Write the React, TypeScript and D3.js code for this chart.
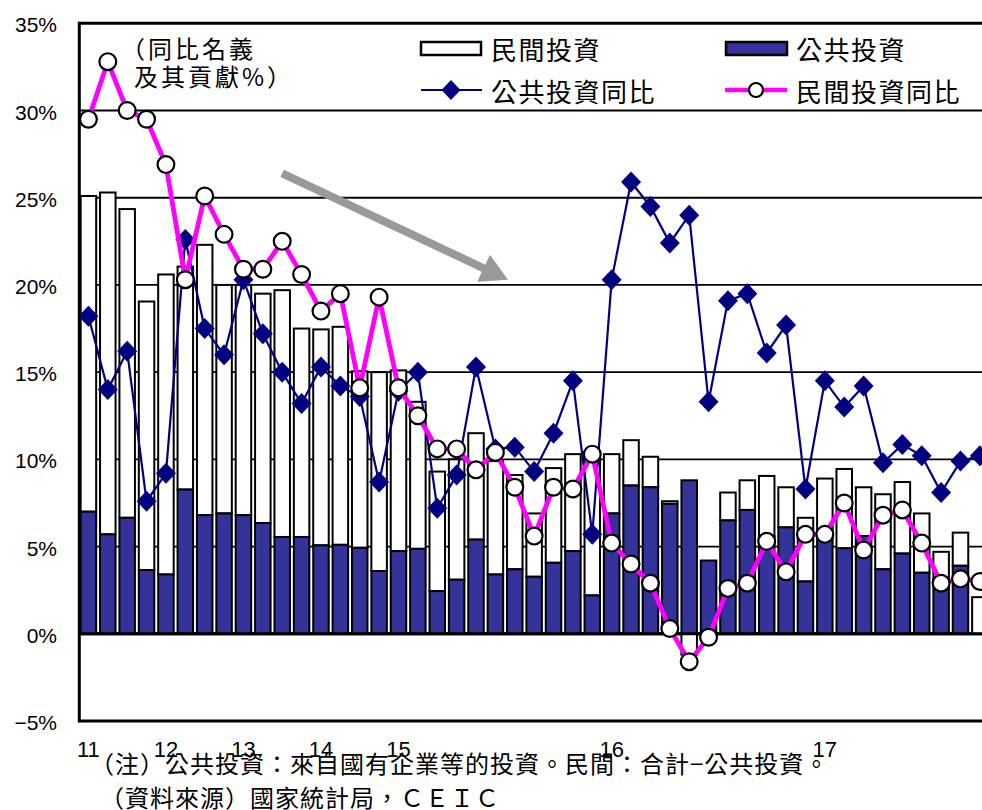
import React from 'react';
import * as d3 from 'd3';

// ---------- DATA ----------
const categories: string[] = [
  '11Q1', '11Q2', '11Q3', '11Q4',
  '12Q1', '12Q2', '12Q3', '12Q4',
  '13Q1', '13Q2', '13Q3', '13Q4',
  '14Q1', '14Q2', '14Q3', '14Q4',
  '15-02', '15-03', '15-04', '15-05', '15-06', '15-07', '15-08', '15-09', '15-10', '15-11', '15-12',
  '16-02', '16-03', '16-04', '16-05', '16-06', '16-07', '16-08', '16-09', '16-10', '16-11', '16-12',
  '17-02', '17-03', '17-04', '17-05', '17-06', '17-07', '17-08', '17-09', '17-10',
];

// contribution of public investment (dark bars), %
const publicContrib: number[] = [
  7.0, 5.7, 6.65, 3.65,
  3.4, 8.27, 6.8, 6.9,
  6.8, 6.35, 5.55, 5.55,
  5.07, 5.1, 4.93, 3.6,
  4.74, 4.87, 2.45, 3.1, 5.4, 3.4, 3.7, 3.27, 4.07, 4.74, 2.2,
  6.9, 8.5, 8.4, 7.45, 8.8, 4.2, 6.5, 7.1, 5.6, 6.1, 3.0,
  5.5, 4.9, 5.6, 3.7, 4.6, 3.5, 3.1, 3.9, 0,
];

// contribution of private investment (white bars), %
const privateContrib: number[] = [
  18.1, 19.6, 17.7, 15.4,
  17.2, 12.78, 15.5, 13.1,
  13.2, 13.15, 14.15, 11.95,
  12.38, 12.5, 10.12, 11.4,
  10.36, 8.43, 6.85, 6.9, 6.1, 6.5, 5.4, 3.63, 5.43, 5.56, 8.0,
  3.4, 2.6, 1.75, 0.15, -1.2, 0, 1.6, 1.7, 3.45, 2.3, 3.65,
  3.4, 4.55, 2.8, 4.3, 4.1, 3.4, 1.6, 1.9, 2.1,
];

// public investment YoY, %
const publicYoY: number[] = [
  18.2, 14.0, 16.2, 7.6,
  9.2, 22.6, 17.5, 16.0,
  20.3, 17.2, 15.0, 13.2,
  15.3, 14.2, 13.6, 8.7,
  13.9, 15.0, 7.2, 9.1, 15.3, 10.6, 10.7, 9.3, 11.5, 14.5, 5.7,
  20.3, 25.9, 24.5, 22.4, 24.0, 13.3, 19.1, 19.5, 16.1, 17.7, 8.3,
  14.5, 13.0, 14.2, 9.8, 10.85, 10.2, 8.1, 9.9, 10.2,
];

// private investment YoY, %
const privateYoY: number[] = [
  29.5, 32.8, 30.0, 29.5,
  26.9, 20.3, 25.1, 22.9,
  20.9, 20.9, 22.5, 20.6,
  18.5, 19.5, 14.1, 19.3,
  14.1, 12.5, 10.6, 10.6, 9.4, 10.4, 8.4, 5.6, 8.4, 8.3, 10.3,
  5.2, 4.0, 2.9, 0.3, -1.6, -0.2, 2.6, 2.9, 5.3, 3.55, 5.7,
  5.7, 7.5, 4.8, 6.8, 7.1, 5.2, 2.9, 3.15, 3.0,
];

const yTicks: number[] = [-5, 0, 5, 10, 15, 20, 25, 30, 35];
const yTickLabels: string[] = ['−5%', '0%', '5%', '10%', '15%', '20%', '25%', '30%', '35%'];

const xTickCats: string[] = ['11Q1', '12Q1', '13Q1', '14Q1', '15-02', '16-02', '17-02'];
const xTickLabels: string[] = ['11', '12', '13', '14', '15', '16', '17'];

const legendLabels = {
  priv: '民間投資',
  pub: '公共投資',
  pubYoY: '公共投資同比',
  privYoY: '民間投資同比',
};
const noteLine1 = '（注）公共投資：來自國有企業等的投資。民間：合計−公共投資。';
const noteLine2 = '（資料來源）國家統計局，ＣＥＩＣ';
const annotation1 = '（同比名義';
const annotation2 = '及其貢獻%）';

// trend arrow in data coordinates [category index, value]
const arrowFrom: [number, number] = [10, 26.4];
const arrowTo: [number, number] = [21.65, 20.3];

// ---------- STYLE ----------
const W = 982;
const H = 810;
const NAVY = '#000080';
const BLUE = '#333399';
const MAGENTA = '#FF00FF';
const GRAY = '#999999';
const CJK = '"Noto Sans CJK TC", "Noto Sans CJK JP", sans-serif';
const NUM = '"Liberation Sans", Arial, sans-serif';

export default function App() {
  const y = d3.scaleLinear().domain([-5, 35]).range([721, 23.3]);
  const x = d3
    .scaleBand<string>()
    .domain(categories)
    .range([79.5, 988.8])
    .paddingInner(0.2)
    .paddingOuter(0.06);
  const bw = x.bandwidth();
  const cx = (i: number) => (x(categories[i]) as number) + bw / 2;
  const step = x.step();
  const cxf = (t: number) => cx(0) + t * step;

  const pubLine = d3
    .line<number>()
    .x((_, i) => cx(i))
    .y((d) => y(d));
  const privLine = d3
    .line<number>()
    .x((_, i) => cx(i))
    .y((d) => y(d));

  const diamond = (px: number, py: number, r: number) =>
    `M${px},${py - r * 1.05}L${px + r},${py}L${px},${py + r * 1.05}L${px - r},${py}Z`;

  // arrow geometry
  const ax0 = cxf(arrowFrom[0]);
  const ay0 = y(arrowFrom[1]);
  const ax1 = cxf(arrowTo[0]);
  const ay1 = y(arrowTo[1]);
  const ang = Math.atan2(ay1 - ay0, ax1 - ax0);
  const headLen = 27;
  const headHalf = 15;
  const bx = ax1 - headLen * Math.cos(ang);
  const by = ay1 - headLen * Math.sin(ang);
  const nx = -Math.sin(ang);
  const ny = Math.cos(ang);
  const headPts = `${ax1},${ay1} ${bx + nx * headHalf},${by + ny * headHalf} ${bx - nx * headHalf},${by - ny * headHalf}`;

  const plotLeft = 79.3;

  return (
    <div style={{ position: 'absolute', left: 0, top: 0 }}>
      <svg width={W} height={H} style={{ display: 'block', background: '#fff' }}>
        <rect x={0} y={0} width={W} height={H} fill="#fff" />
        {/* gridlines */}
        {yTicks.map((t) => {
          const thick = t === -5 || t === 0 || t === 35;
          return (
            <line
              key={'g' + t}
              x1={plotLeft}
              x2={W}
              y1={y(t)}
              y2={y(t)}
              stroke="#000"
              strokeWidth={thick ? 3 : 1.8}
            />
          );
        })}
        {/* y tick labels */}
        {yTicks.map((t, i) => (
          <text
            key={'yl' + t}
            x={57}
            y={y(t) + 9}
            textAnchor="end"
            fontFamily={NUM}
            fontSize={21}
            fill="#000"
          >
            {yTickLabels[i]}
          </text>
        ))}
        {/* bars */}
        {categories.map((c, i) => {
          const pub = publicContrib[i];
          const priv = privateContrib[i];
          const x0 = x(c) as number;
          const pubTop = y(Math.max(pub, 0));
          const pubBot = y(Math.min(pub, 0));
          let privTop: number;
          let privBot: number;
          if (priv >= 0) {
            privTop = y(pub + priv);
            privBot = y(pub);
          } else {
            privTop = y(0);
            privBot = y(priv);
          }
          return (
            <g key={'b' + c}>
              {priv !== 0 && (
                <rect
                  x={x0}
                  y={privTop}
                  width={bw}
                  height={Math.max(privBot - privTop, 0)}
                  fill="#fff"
                  stroke="#000"
                  strokeWidth={2}
                />
              )}
              {pub !== 0 && (
                <rect
                  x={x0}
                  y={pubTop}
                  width={bw}
                  height={pubBot - pubTop}
                  fill={BLUE}
                  stroke="#000"
                  strokeWidth={2}
                />
              )}
            </g>
          );
        })}
        {/* zero axis, left axis */}
        <line x1={plotLeft} x2={W} y1={y(0)} y2={y(0)} stroke="#000" strokeWidth={3} />
        <line x1={plotLeft} x2={plotLeft} y1={y(35) - 1.5} y2={y(-5) + 1.5} stroke="#000" strokeWidth={3} />

        {/* trend arrow */}
        <line x1={ax0} y1={ay0} x2={bx + 2 * Math.cos(ang)} y2={by + 2 * Math.sin(ang)} stroke={GRAY} strokeWidth={8} />
        <polygon points={headPts} fill={GRAY} />

        {/* public YoY line */}
        <path d={pubLine(publicYoY) as string} fill="none" stroke={NAVY} strokeWidth={2.2} />
        {publicYoY.map((v, i) => (
          <path key={'d' + i} d={diamond(cx(i), y(v), 10)} fill={NAVY} />
        ))}
        {/* private YoY line */}
        <path d={privLine(privateYoY) as string} fill="none" stroke={MAGENTA} strokeWidth={4.8} strokeLinejoin="round" />
        {privateYoY.map((v, i) => (
          <circle key={'c' + i} cx={cx(i)} cy={y(v)} r={8.4} fill="#fff" stroke="#000" strokeWidth={2.2} />
        ))}

        {/* annotation */}
        <text x={121} y={58} fontFamily={CJK} fontSize={24} letterSpacing={3} fill="#000">
          {annotation1}
        </text>
        <text x={134} y={86} fontFamily={CJK} fontSize={24} letterSpacing={3} fill="#000">
          {annotation2}
        </text>

        {/* legend */}
        <rect x={421} y={42} width={60} height={13} fill="#fff" stroke="#000" strokeWidth={2.5} />
        <text x={491} y={60} fontFamily={CJK} fontSize={26} letterSpacing={1.5} fill="#000">
          {legendLabels.priv}
        </text>
        <rect x={726} y={42} width={61} height={13} fill={BLUE} stroke="#000" strokeWidth={2.5} />
        <text x={796} y={60} fontFamily={CJK} fontSize={26} letterSpacing={1.5} fill="#000">
          {legendLabels.pub}
        </text>
        <line x1={421} x2={482} y1={90} y2={90} stroke={NAVY} strokeWidth={2.2} />
        <path d={diamond(451, 90, 9.5)} fill={NAVY} />
        <text x={491} y={102} fontFamily={CJK} fontSize={26} letterSpacing={1.5} fill="#000">
          {legendLabels.pubYoY}
        </text>
        <line x1={725} x2={787} y1={90} y2={90} stroke={MAGENTA} strokeWidth={4.5} />
        <circle cx={756} cy={90} r={7} fill="#fff" stroke="#000" strokeWidth={2.2} />
        <text x={796} y={102} fontFamily={CJK} fontSize={26} letterSpacing={1.5} fill="#000">
          {legendLabels.privYoY}
        </text>

        {/* x tick labels */}
        {xTickCats.map((c, i) => (
          <text
            key={'xl' + c}
            x={(x(c) as number) + bw / 2}
            y={757}
            textAnchor="middle"
            fontFamily={NUM}
            fontSize={22}
            fill="#000"
          >
            {xTickLabels[i]}
          </text>
        ))}

        {/* notes */}
        <text x={90} y={773} fontFamily={CJK} fontSize={24} letterSpacing={1} fill="#000">
          {noteLine1}
        </text>
        <text x={100} y={807} fontFamily={CJK} fontSize={24} letterSpacing={1} fill="#000">
          {noteLine2}
        </text>
      </svg>
    </div>
  );
}
